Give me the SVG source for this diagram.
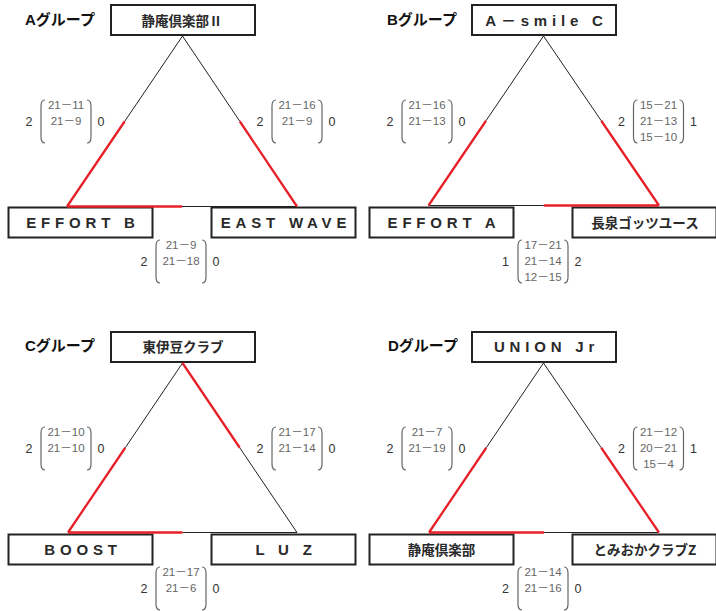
<svg xmlns="http://www.w3.org/2000/svg" width="716" height="611" viewBox="0 0 716 611">
<style>
text{font-family:"Liberation Sans","Noto Sans CJK JP",sans-serif}
.bg{fill:#fff}
.box{fill:#fff;stroke:#222;stroke-width:2}
.grp{font-size:15px;font-weight:bold;fill:#111}
.nm{font-size:15px;font-weight:bold;fill:#2a2a2a;text-anchor:middle;letter-spacing:4.8px}
.jp{font-family:"Noto Sans CJK JP",sans-serif;font-size:13.5px;font-weight:bold;fill:#2a2a2a;text-anchor:middle}
.sc{font-size:11.5px;fill:#666;text-anchor:middle}
.rs{font-size:12.5px;fill:#333;text-anchor:middle}
.br{fill:none;stroke:#666;stroke-width:1.2}
.thin{fill:none;stroke:#222;stroke-width:1}
.red{fill:none;stroke:#e62129;stroke-width:2.3}
</style>
<defs>
<path id="bl" class="br" d="M4,0 Q0,0 0,6 L0,37 Q0,43 4,43"/>
<path id="brr" class="br" d="M-4,0 Q0,0 0,6 L0,37 Q0,43 -4,43"/>
</defs>
<rect class="bg" x="0" y="0" width="716" height="611"/>

<!-- group labels -->
<text class="grp" x="25" y="25">Aグループ</text>
<text class="grp" x="387" y="25">Bグループ</text>
<text class="grp" x="25" y="351">Cグループ</text>
<text class="grp" x="388" y="351">Dグループ</text>

<!-- nodes -->
<g id="a-top"><rect class="box" x="111" y="5" width="144" height="30"/><text class="jp" x="182" y="25.5">静庵倶楽部Ⅱ</text></g>
<g id="a-left"><rect class="box" x="8.5" y="207.5" width="144" height="30"/><text class="nm" x="83" y="227.5">EFFORT B</text></g>
<g id="a-right"><rect class="box" x="211.5" y="207.5" width="144" height="30"/><text class="nm" x="286" y="227.5">EAST WAVE</text></g>

<g id="b-top"><rect class="box" x="472" y="5" width="144" height="30"/><text class="nm" x="546.5" y="25.5">A－smile C</text></g>
<g id="b-left"><rect class="box" x="369.5" y="207.5" width="144" height="30"/><text class="nm" x="444" y="227.5">EFFORT A</text></g>
<g id="b-right"><rect class="box" x="572.5" y="207.5" width="144" height="30"/><text class="jp" x="645" y="227.5">長泉ゴッツユース</text></g>

<g id="c-top"><rect class="box" x="111" y="332" width="144" height="30"/><text class="jp" x="183" y="352">東伊豆クラブ</text></g>
<g id="c-left"><rect class="box" x="8.5" y="534.5" width="144" height="30"/><text class="nm" x="83" y="554.5">BOOST</text></g>
<g id="c-right"><rect class="box" x="211.5" y="534.5" width="144" height="30"/><text class="nm" x="286" y="554.5">L U Z</text></g>

<g id="d-top"><rect class="box" x="472" y="332" width="144" height="30"/><text class="nm" x="546.5" y="352">UNION Jr</text></g>
<g id="d-left"><rect class="box" x="369.5" y="534.5" width="144" height="30"/><text class="jp" x="441.5" y="554.5">静庵倶楽部</text></g>
<g id="d-right"><rect class="box" x="572.5" y="534.5" width="144" height="30"/><text class="jp" x="645" y="554.5">とみおかクラブZ</text></g>

<!-- connectors -->
<g id="connectors">
<path class="thin" d="M182.5,36 L124.75,121.25 M182.5,36 L239.75,121.25 M182,206.5 L297,206.5"/>
<path class="red" d="M124.75,121.25 L67,206.5 M239.75,121.25 L297,206.5 M67,206.5 L182,206.5"/>

<path class="thin" d="M543.5,36 L486,120.75 M543.5,36 L601.25,120.75 M428.5,205.5 L543.75,205.5"/>
<path class="red" d="M486,120.75 L428.5,205.5 M601.25,120.75 L659,205.5 M543.75,205.5 L659,205.5"/>

<path class="thin" d="M182.5,363 L125.25,447.75 M239.75,447.75 L297,532.5 M182.5,532.5 L297,532.5"/>
<path class="red" d="M125.25,447.75 L68,532.5 M182.5,363 L239.75,447.75 M68,532.5 L182.5,532.5"/>

<path class="thin" d="M543.5,363 L486.25,447.75 M543.5,363 L601.25,447.75 M544,532.5 L659,532.5"/>
<path class="red" d="M486.25,447.75 L429,532.5 M601.25,447.75 L659,532.5 M429,532.5 L544,532.5"/>
</g>

<!-- scores -->
<g id="a-score-left"><text class="rs" x="29" y="126">2</text><use href="#bl" x="41" y="100"/><use href="#brr" x="91" y="100"/><text class="sc" x="66" y="109">21－11</text><text class="sc" x="66" y="125">21－9</text><text class="rs" x="101" y="126">0</text></g>
<g id="a-score-right"><text class="rs" x="260" y="126">2</text><use href="#bl" x="272" y="100"/><use href="#brr" x="322" y="100"/><text class="sc" x="297" y="109">21－16</text><text class="sc" x="297" y="125">21－9</text><text class="rs" x="332" y="126">0</text></g>
<g id="a-score-bottom"><text class="rs" x="144" y="266">2</text><use href="#bl" x="156" y="240"/><use href="#brr" x="206" y="240"/><text class="sc" x="181" y="249">21－9</text><text class="sc" x="181" y="265">21－18</text><text class="rs" x="216" y="266">0</text></g>

<g id="b-score-left"><text class="rs" x="390" y="126">2</text><use href="#bl" x="402" y="100"/><use href="#brr" x="452" y="100"/><text class="sc" x="427" y="109">21－16</text><text class="sc" x="427" y="125">21－13</text><text class="rs" x="462" y="126">0</text></g>
<g id="b-score-right"><text class="rs" x="621.5" y="126">2</text><use href="#bl" x="633.5" y="100"/><use href="#brr" x="683.5" y="100"/><text class="sc" x="658.5" y="109">15－21</text><text class="sc" x="658.5" y="125">21－13</text><text class="sc" x="658.5" y="141">15－10</text><text class="rs" x="693.5" y="126">1</text></g>
<g id="b-score-bottom"><text class="rs" x="505.5" y="266">1</text><use href="#bl" x="518" y="240"/><use href="#brr" x="568" y="240"/><text class="sc" x="543" y="249">17－21</text><text class="sc" x="543" y="265">21－14</text><text class="sc" x="543" y="281">12－15</text><text class="rs" x="578" y="266">2</text></g>

<g id="c-score-left"><text class="rs" x="29" y="453">2</text><use href="#bl" x="41" y="427"/><use href="#brr" x="91" y="427"/><text class="sc" x="66" y="436">21－10</text><text class="sc" x="66" y="452">21－10</text><text class="rs" x="101" y="453">0</text></g>
<g id="c-score-right"><text class="rs" x="260" y="453">2</text><use href="#bl" x="272" y="427"/><use href="#brr" x="322" y="427"/><text class="sc" x="297" y="436">21－17</text><text class="sc" x="297" y="452">21－14</text><text class="rs" x="332" y="453">0</text></g>
<g id="c-score-bottom"><text class="rs" x="144" y="593">2</text><use href="#bl" x="156" y="567"/><use href="#brr" x="206" y="567"/><text class="sc" x="181" y="576">21－17</text><text class="sc" x="181" y="592">21－6</text><text class="rs" x="216" y="593">0</text></g>

<g id="d-score-left"><text class="rs" x="390" y="453">2</text><use href="#bl" x="402" y="427"/><use href="#brr" x="452" y="427"/><text class="sc" x="427" y="436">21－7</text><text class="sc" x="427" y="452">21－19</text><text class="rs" x="462" y="453">0</text></g>
<g id="d-score-right"><text class="rs" x="621.5" y="453">2</text><use href="#bl" x="633.5" y="427"/><use href="#brr" x="683.5" y="427"/><text class="sc" x="658.5" y="436">21－12</text><text class="sc" x="658.5" y="452">20－21</text><text class="sc" x="658.5" y="468">15－4</text><text class="rs" x="693.5" y="453">1</text></g>
<g id="d-score-bottom"><text class="rs" x="505.5" y="593">2</text><use href="#bl" x="518" y="567"/><use href="#brr" x="568" y="567"/><text class="sc" x="543" y="576">21－14</text><text class="sc" x="543" y="592">21－16</text><text class="rs" x="578" y="593">0</text></g>
</svg>
